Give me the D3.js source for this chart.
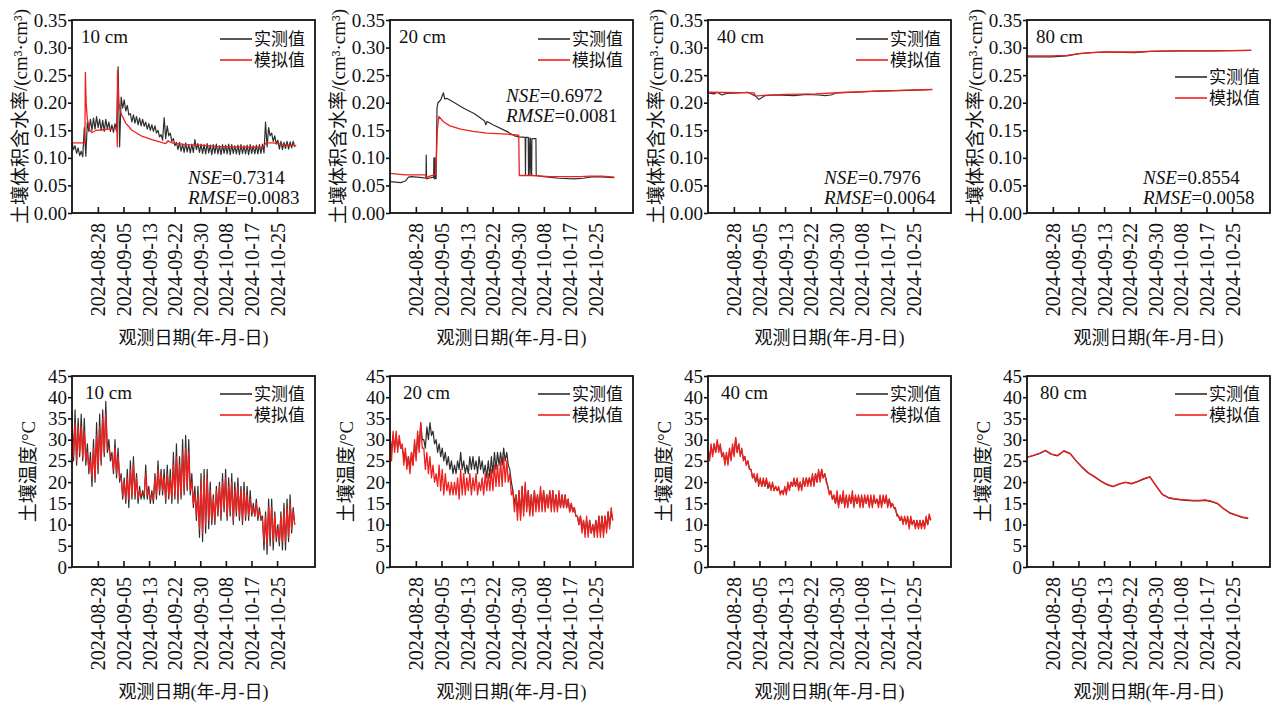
<!DOCTYPE html>
<html>
<head>
<meta charset="utf-8">
<script src="https://cdn.jsdelivr.net/npm/d3@7"></script>
<style>
  body { margin: 0; background: #fff; }
  text { font-family: 'Liberation Serif', 'Times New Roman', 'Noto Sans CJK SC', serif; fill: #111; }
  .cjk { font-family: 'Noto Sans CJK SC', sans-serif; }
</style>
</head>
<body>
<svg id="chart" width="1278" height="708"></svg>
<script>
// time base: first record and the 200 h tick marks
const startTime = '2024-08-19 14:00';
const spanDays = 79.1;
const tickTimes = ['2024-08-28 00:00', '2024-09-05 08:00', '2024-09-13 16:00', '2024-09-22 00:00',
  '2024-09-30 08:00', '2024-10-08 16:00', '2024-10-17 00:00', '2024-10-25 08:00'];

const moistureTicks = [0, 0.05, 0.10, 0.15, 0.20, 0.25, 0.30, 0.35];
const tempTicks = [0, 5, 10, 15, 20, 25, 30, 35, 40, 45];

// ---- soil moisture (cm3/cm3) ----
// 10 cm observed: daily highs / lows
const sm10ObsHi = [.128, .122, .118, .112, .155, .165, .17, .172, .175, .17, .168, .17, .165, .16, .162,
  .265, .21, .205, .195, .18, .178, .175, .172, .17, .165, .162, .16, .158, .15, .142, .173,
  .158, .145, .135, .128, .128, .125, .127, .124, .125, .133, .126,
  .125, .124, .126, .123, .124, .125, .122, .124, .123, .125, .124, .122, .123, .124, .122, .123, .124, .122, .123, .124, .125,
  .165, .155, .145, .14, .132, .13, .128, .13, .129, .13];
const sm10ObsLo = [.115, .108, .104, .102, .103, .148, .15, .152, .155, .15, .148, .152, .148, .146, .148,
  .12, .19, .185, .178, .165, .163, .16, .158, .157, .152, .15, .148, .145, .138, .132, .135,
  .14, .13, .122, .115, .112, .11, .111, .109, .11, .115, .11,
  .108, .107, .109, .106, .108, .107, .106, .108, .107, .106, .108, .107, .106, .108, .107, .106, .108, .107, .107, .108, .109,
  .12, .14, .13, .125, .116, .115, .117, .116, .118, .12];
const sm10SimDays = [0, 4.2, 4.35, 4.6, 5.0, 5.8, 6.5, 8, 10, 12, 14.6, 14.75, 14.8, 15.2, 16, 17.5, 19.5, 22.5, 26,
  30.5, 31.3, 32.5, 37, 41.5, 47, 53, 62, 63.2, 65.5, 69, 73];
const sm10SimVals = [.127, .127, .255, .2, .17, .15, .146, .15, .151, .152, .155, .12, .258, .2, .18, .163, .15, .14, .133,
  .126, .131, .127, .124, .123, .121, .12, .119, .127, .127, .124, .122];

// 20 cm
const sm20ObsDays = [0, 3.5, 5.0, 6.0, 7.0, 10.5, 11.7, 11.8, 11.9, 12.5, 14.2, 14.3, 14.4, 14.6, 14.7, 15.0, 15.3, 15.6,
  16.5, 17.4, 17.8, 18.5, 21, 24, 27.5, 30.8, 31.2, 31.6, 33.5, 38, 40.5, 42, 44, 44.1, 44.2, 45, 45.1, 45.2, 45.6, 45.7,
  46.1, 46.2, 47.5, 47.6, 50, 55, 60, 63, 65, 67, 70, 73];
const sm20ObsVals = [.057, .055, .058, .065, .066, .064, .063, .105, .062, .063, .065, .1, .062, .1, .063, .062, .19, .2,
  .205, .218, .207, .208, .2, .19, .18, .167, .16, .166, .16, .148, .14, .138, .137, .068, .137, .137, .068, .136, .068, .136,
  .068, .135, .135, .068, .066, .063, .062, .063, .065, .066, .065, .064];
const sm20SimDays = [0, 5, 7, 11.5, 11.9, 12.5, 14.8, 15.1, 15.4, 15.9, 17.5, 19.5, 23, 27, 31.5, 38, 41.9, 42.1, 46, 52,
  62, 65, 69, 73];
const sm20SimVals = [.072, .069, .069, .069, .063, .066, .07, .1, .15, .175, .165, .158, .152, .148, .145, .143, .141, .068,
  .068, .066, .066, .067, .067, .065];

// 40 cm
const sm40ObsDays = [0, 2, 3, 4.5, 6, 10, 13, 15.5, 16.5, 17.5, 18.5, 22, 28, 32, 36, 38, 40, 42, 48, 55, 62, 68, 73];
const sm40ObsVals = [.218, .216, .219, .214, .217, .218, .219, .212, .206, .209, .213, .214, .213, .215, .214, .213, .214,
  .218, .219, .221, .222, .223, .224];
const sm40SimDays = [0, 15, 15.5, 17, 25, 35, 45, 55, 65, 73];
const sm40SimVals = [.219, .218, .212, .213, .215, .216, .219, .221, .223, .224];

// 80 cm
const sm80ObsDays = [0, 8, 13, 17, 21, 25, 35, 40, 50, 60, 73];
const sm80ObsVals = [.283, .283, .285, .289, .291, .292, .291, .293, .294, .294, .295];
const sm80SimDays = [0, 8, 13, 17, 21, 25, 35, 40, 50, 60, 73];
const sm80SimVals = [.285, .285, .286, .289, .291, .292, .292, .293, .294, .294, .295];

// ---- soil temperature (°C), daily highs / lows ----
const t10ObsHi = [36, 37, 35, 36, 35, 29, 27, 30, 34, 36, 37, 39, 30, 27, 30, 28, 22, 21, 23, 25, 26, 22, 19, 18,
  24, 19, 18, 22, 25, 23, 23, 24, 23, 27, 29, 26, 30, 31, 30, 22, 19, 19, 22, 23, 23, 20, 17, 19, 20, 22, 23, 21,
  22, 20, 21, 19, 20, 19, 18, 15, 16, 14, 12, 13, 16, 16, 13, 10, 13, 15, 16, 17, 14];
const t10ObsLo = [25, 24, 26, 25, 24, 22, 19, 20, 22, 24, 26, 27, 25, 22, 21, 20, 16, 15, 14, 16, 16, 15, 16, 16,
  16, 15, 15, 16, 17, 17, 15, 16, 15, 16, 15, 16, 17, 18, 17, 14, 11, 7, 6, 8, 9, 10, 10, 12, 11, 13, 11, 12,
  10, 12, 11, 10, 11, 11, 12, 12, 11, 11, 4, 3, 5, 4, 6, 5, 4, 4, 6, 8, 10];
const t10SimHi = [33, 34, 33, 33, 32, 27, 25, 28, 31, 33, 35, 36, 28, 26, 28, 26, 21, 20, 21, 23, 24, 21, 18, 17,
  22, 18, 17, 21, 23, 22, 21, 22, 21, 24, 26, 24, 27, 28, 27, 20, 17, 17, 20, 21, 21, 18, 16, 18, 19, 20, 21, 19,
  20, 18, 19, 18, 18, 17, 16, 14, 15, 13, 11, 12, 14, 14, 12, 9, 12, 13, 14, 15, 13];
const t10SimLo = [26, 25, 27, 26, 25, 23, 21, 21, 23, 25, 27, 28, 26, 23, 22, 21, 17, 16, 16, 17, 17, 16, 17, 17,
  17, 16, 16, 17, 18, 18, 16, 17, 16, 17, 16, 17, 18, 19, 18, 15, 12, 9, 8, 10, 11, 11, 11, 13, 12, 14, 12, 13,
  11, 13, 12, 11, 12, 12, 13, 12, 12, 12, 6, 5, 7, 6, 7, 6, 6, 6, 7, 9, 10];

const t20ObsHi = [31, 31, 31, 30, 28, 27, 26, 27, 29, 31, 34, 30, 33, 34, 32, 30, 29, 28, 27, 26, 25, 24, 25, 27,
  25, 24, 26, 26, 25, 26, 25, 24, 25, 26, 27, 27, 27, 28, 27, 23, 18, 17, 18, 19, 19, 18, 17, 18, 17,
  18, 18, 17, 18, 18, 17, 17, 17, 17, 16, 15, 14, 12, 12, 11, 11, 11, 10, 11, 12, 12, 12, 13, 13];
const t20ObsLo = [27, 28, 28, 28, 26, 24, 23, 24, 26, 28, 30, 28, 30, 31, 29, 27, 26, 25, 24, 23, 22, 22, 23, 23,
  22, 22, 23, 23, 22, 23, 22, 21, 21, 22, 23, 24, 24, 25, 24, 20, 15, 13, 12, 13, 14, 13, 13, 14, 14,
  14, 14, 14, 14, 14, 14, 14, 14, 14, 13, 13, 12, 10, 9, 8, 8, 8, 8, 8, 8, 8, 9, 10, 11];
const t20SimHi = [32, 32, 32, 31, 29, 28, 26, 27, 30, 32, 34, 28, 27, 26, 24, 22, 24, 23, 22, 20, 20, 20, 21, 23,
  22, 21, 22, 21, 22, 20, 21, 22, 22, 23, 24, 24, 25, 26, 25, 22, 18, 17, 18, 19, 20, 18, 17, 18, 17,
  19, 18, 17, 18, 18, 17, 18, 17, 17, 16, 15, 14, 12, 12, 11, 12, 11, 10, 11, 12, 12, 12, 13, 14];
const t20SimLo = [25, 27, 27, 28, 24, 23, 22, 24, 25, 27, 28, 23, 22, 21, 20, 19, 18, 17, 18, 17, 17, 17, 16, 17,
  17, 18, 17, 18, 17, 18, 17, 18, 18, 18, 19, 19, 19, 20, 20, 17, 13, 11, 11, 12, 13, 12, 12, 13, 13,
  13, 13, 14, 13, 13, 13, 14, 14, 14, 13, 13, 12, 10, 8, 7, 7, 8, 7, 7, 7, 7, 8, 9, 11];

const t40ObsHi = [27.5, 28.5, 29, 29.5, 28.5, 27, 26.5, 27.5, 28.5, 30.5, 29, 27.5, 26, 25, 23, 21.5, 21.5, 20.5, 20.5, 20.5,
  19.5, 19.5, 19, 18.5, 18, 18.5, 19.5, 20, 20.5, 20.5, 20, 20.5, 21, 21, 21.5, 22, 22.5, 23, 22, 19, 17.5, 16.5,
  17, 16.5, 17, 16.5, 16.5, 17, 16.5, 16.5, 16.5, 16.5, 16.5, 16.5, 16.5, 16, 16.5, 16.5, 16.5, 16,
  15, 13.5, 12, 11.5, 11.5, 11.5, 11.5, 11, 11, 11, 11, 11.5, 12];
const t40ObsLo = [25.5, 26.5, 27, 27.5, 26, 24.5, 24.5, 25.5, 26.5, 27, 26.5, 25.5, 24, 23, 21, 20, 19.5, 19, 19, 18.5,
  18.5, 18, 18, 17.5, 17.5, 17.5, 18.5, 19, 19, 18.5, 18.5, 19, 19.5, 19.5, 19.5, 20, 20.5, 21, 20.5, 17.5, 16, 15,
  14.5, 15, 14.5, 14.5, 15, 14.5, 15, 14.5, 14.5, 15, 14.5, 14.5, 15, 14.5, 14.5, 15, 14.5, 14.5,
  14, 12.5, 11, 10.5, 10.5, 9.5, 10, 9.5, 9.5, 9.5, 9.5, 10, 11];
const t40SimHi = [28, 29, 29, 30, 29, 27, 27, 28, 29, 30.5, 29, 28, 26, 25, 23, 22, 22, 21, 21, 21,
  20, 20, 19, 19, 18, 19, 20, 20, 21, 21, 20, 21, 21, 21, 22, 22, 23, 23, 22, 19, 18, 17,
  18, 17, 18, 17, 17, 18, 17, 17, 17, 17, 17, 17, 17, 16, 17, 17, 17, 16,
  15, 14, 12, 12, 12, 12, 12, 11, 11, 11, 11, 12, 12.5];
const t40SimLo = [25, 26, 27, 27, 26, 24, 24, 25, 26, 27, 26, 25, 24, 23, 21, 20, 19, 19, 19, 19,
  18, 18, 18, 17, 17, 17, 18, 19, 19, 18, 18, 19, 19, 19, 19, 20, 20, 21, 20, 17, 16, 15,
  14, 15, 14, 14, 15, 14, 15, 14, 14, 15, 14, 14, 15, 14, 14, 15, 14, 14,
  14, 12, 11, 10, 10, 9, 10, 9, 9, 9, 9, 10, 11];

// 80 cm: one value every 2 days
const t80ObsVals = [25.8, 26.2, 26.7, 27.4, 26.5, 26.2, 27.3, 26.7, 25, 23.4, 22.1, 21.2, 20.2, 19.4, 18.9, 19.5, 19.9,
  19.6, 20.1, 20.7, 21.2, 19.1, 17.1, 16.3, 16, 15.8, 15.7, 15.6, 15.6, 15.7, 15.4, 14.9, 13.7, 12.7, 12.2, 11.7, 11.4];
const t80SimVals = [25.9, 26.3, 26.8, 27.5, 26.6, 26.3, 27.4, 26.8, 25, 23.5, 22.2, 21.3, 20.3, 19.5, 19, 19.6, 20,
  19.7, 20.2, 20.8, 21.3, 19.2, 17.2, 16.4, 16.1, 15.9, 15.8, 15.7, 15.7, 15.8, 15.5, 15, 13.8, 12.8, 12.3, 11.8, 11.5];

const depths = ['10 cm', '20 cm', '40 cm', '80 cm'];
const nseVals = ['0.7314', '0.6972', '0.7976', '0.8554'];
const rmseVals = ['0.0083', '0.0081', '0.0064', '0.0058'];

// ---------------------------------------------------------------
const parseTime = d3.timeParse('%Y-%m-%d %H:%M');
const fmtDate = d3.timeFormat('%Y-%m-%d');
const t0 = parseTime(startTime);
const DAY = 864e5;
const at = d => new Date(+t0 + d * DAY);

// daily high at day i, low half a day later
const band = (hi, lo) => hi.flatMap((h, i) => [{ t: at(i), v: h }, { t: at(i + 0.5), v: lo[i] }]);
const pts = (days, vals) => days.map((d, i) => ({ t: at(d), v: vals[i] }));
const every2 = vals => vals.map((v, i) => ({ t: at(i * 2), v }));

const panelLefts = [72, 390, 708, 1027];
const panelW = 243;
const rows = [
  { top: 20, h: 193, ticks: moistureTicks, fmt: d3.format('.2f'), title: '土壤体积含水率/(cm³·cm³)', titleX: 20 },
  { top: 376, h: 191, ticks: tempTicks, fmt: d3.format('d'), title: '土壤温度/°C', titleX: 28 }
];

const panels = [
  { row: 0, col: 0, obs: band(sm10ObsHi, sm10ObsLo), sim: pts(sm10SimDays, sm10SimVals), stats: 'bottom', legend: 'top' },
  { row: 0, col: 1, obs: pts(sm20ObsDays, sm20ObsVals), sim: pts(sm20SimDays, sm20SimVals), stats: 'top', legend: 'top' },
  { row: 0, col: 2, obs: pts(sm40ObsDays, sm40ObsVals), sim: pts(sm40SimDays, sm40SimVals), stats: 'bottom', legend: 'top' },
  { row: 0, col: 3, obs: pts(sm80ObsDays, sm80ObsVals), sim: pts(sm80SimDays, sm80SimVals), stats: 'bottom', legend: 'low' },
  { row: 1, col: 0, obs: band(t10ObsHi, t10ObsLo), sim: band(t10SimHi, t10SimLo), legend: 'top' },
  { row: 1, col: 1, obs: band(t20ObsHi, t20ObsLo), sim: band(t20SimHi, t20SimLo), legend: 'top' },
  { row: 1, col: 2, obs: band(t40ObsHi, t40ObsLo), sim: band(t40SimHi, t40SimLo), legend: 'top' },
  { row: 1, col: 3, obs: every2(t80ObsVals), sim: every2(t80SimVals), legend: 'top' }
];

const OBS = '#2e2e2e', SIM = '#f0201e';
const svg = d3.select('#chart');

panels.forEach((p, k) => {
  const r = rows[p.row];
  const left = panelLefts[p.col];
  const g = svg.append('g').attr('transform', `translate(${left},${r.top})`);

  const x = d3.scaleTime().domain([t0, at(spanDays)]).range([0, panelW]);
  const y = d3.scaleLinear().domain([r.ticks[0], r.ticks[r.ticks.length - 1]]).range([r.h, 0]);

  const clipId = 'clip' + k;
  g.append('clipPath').attr('id', clipId).append('rect').attr('width', panelW).attr('height', r.h);

  const line = d3.line().x(d => x(d.t)).y(d => y(d.v));
  const plot = g.append('g').attr('clip-path', `url(#${clipId})`);
  plot.append('path').datum(p.obs).attr('d', line).attr('fill', 'none')
    .attr('stroke', OBS).attr('stroke-width', 1.2).attr('stroke-linejoin', 'round');
  plot.append('path').datum(p.sim).attr('d', line).attr('fill', 'none')
    .attr('stroke', SIM).attr('stroke-width', 1.3).attr('stroke-linejoin', 'round');

  // x axis, ticks pointing inward, rotated date labels
  const xAxis = g.append('g').attr('transform', `translate(0,${r.h})`)
    .call(d3.axisBottom(x).tickValues(tickTimes.map(parseTime)).tickFormat(fmtDate)
      .tickSizeInner(-6).tickSizeOuter(0));
  xAxis.select('.domain').remove();
  xAxis.selectAll('line').attr('stroke', '#111').attr('stroke-width', 1.6);
  xAxis.selectAll('text')
    .attr('transform', 'rotate(-90)')
    .attr('x', -10).attr('y', 0).attr('dy', '0.35em')
    .attr('text-anchor', 'end')
    .style('font-size', '20px').attr('font-family', null);

  // y axis
  const yAxis = g.append('g')
    .call(d3.axisLeft(y).tickValues(r.ticks).tickFormat(r.fmt).tickSizeInner(4).tickSizeOuter(0).tickPadding(1));
  yAxis.select('.domain').remove();
  yAxis.selectAll('line').attr('stroke', '#111').attr('stroke-width', 1.6);
  yAxis.selectAll('text').style('font-size', '19px').attr('font-family', null);

  // frame
  g.append('rect').attr('width', panelW).attr('height', r.h)
    .attr('fill', 'none').attr('stroke', '#111').attr('stroke-width', 1.8);

  // depth label
  g.append('text').attr('x', p.row === 0 ? 9 : 13).attr('y', 23)
    .style('font-size', '19px').text(depths[p.col]);

  // legend
  const ly = p.legend === 'low' ? 57 : (p.row === 0 ? 19 : 18);
  [['实测值', OBS], ['模拟值', SIM]].forEach(([label, color], i) => {
    const yy = ly + i * 21;
    g.append('line').attr('x1', panelW - 95).attr('x2', panelW - 63).attr('y1', yy).attr('y2', yy)
      .attr('stroke', color).attr('stroke-width', 1.6);
    g.append('text').attr('class', 'cjk').attr('x', panelW - 61).attr('y', yy).attr('dy', '0.36em')
      .style('font-size', '17px').text(label);
  });

  // goodness of fit
  if (p.stats) {
    const sy = p.stats === 'top' ? 82 : r.h - 29;
    const stat = (name, val, yy) => {
      const t = g.append('text').attr('x', 116).attr('y', yy).style('font-size', '19px');
      t.append('tspan').style('font-style', 'italic').text(name);
      t.append('tspan').text('=' + val);
    };
    stat('NSE', nseVals[p.col], sy);
    stat('RMSE', rmseVals[p.col], sy + 20);
  }

  // axis titles
  svg.append('text')
    .attr('transform', `translate(${left + panelW / 2},${r.top + r.h + 131})`)
    .attr('text-anchor', 'middle').style('font-size', '18px')
    .text('观测日期(年-月-日)');
  svg.append('text')
    .attr('transform', `translate(${r.titleX + (left - 72)},${r.top + r.h / 2}) rotate(-90)`)
    .attr('text-anchor', 'middle').attr('dy', '0.35em').style('font-size', '19px')
    .text(r.title);
});
</script>
</body>
</html>
